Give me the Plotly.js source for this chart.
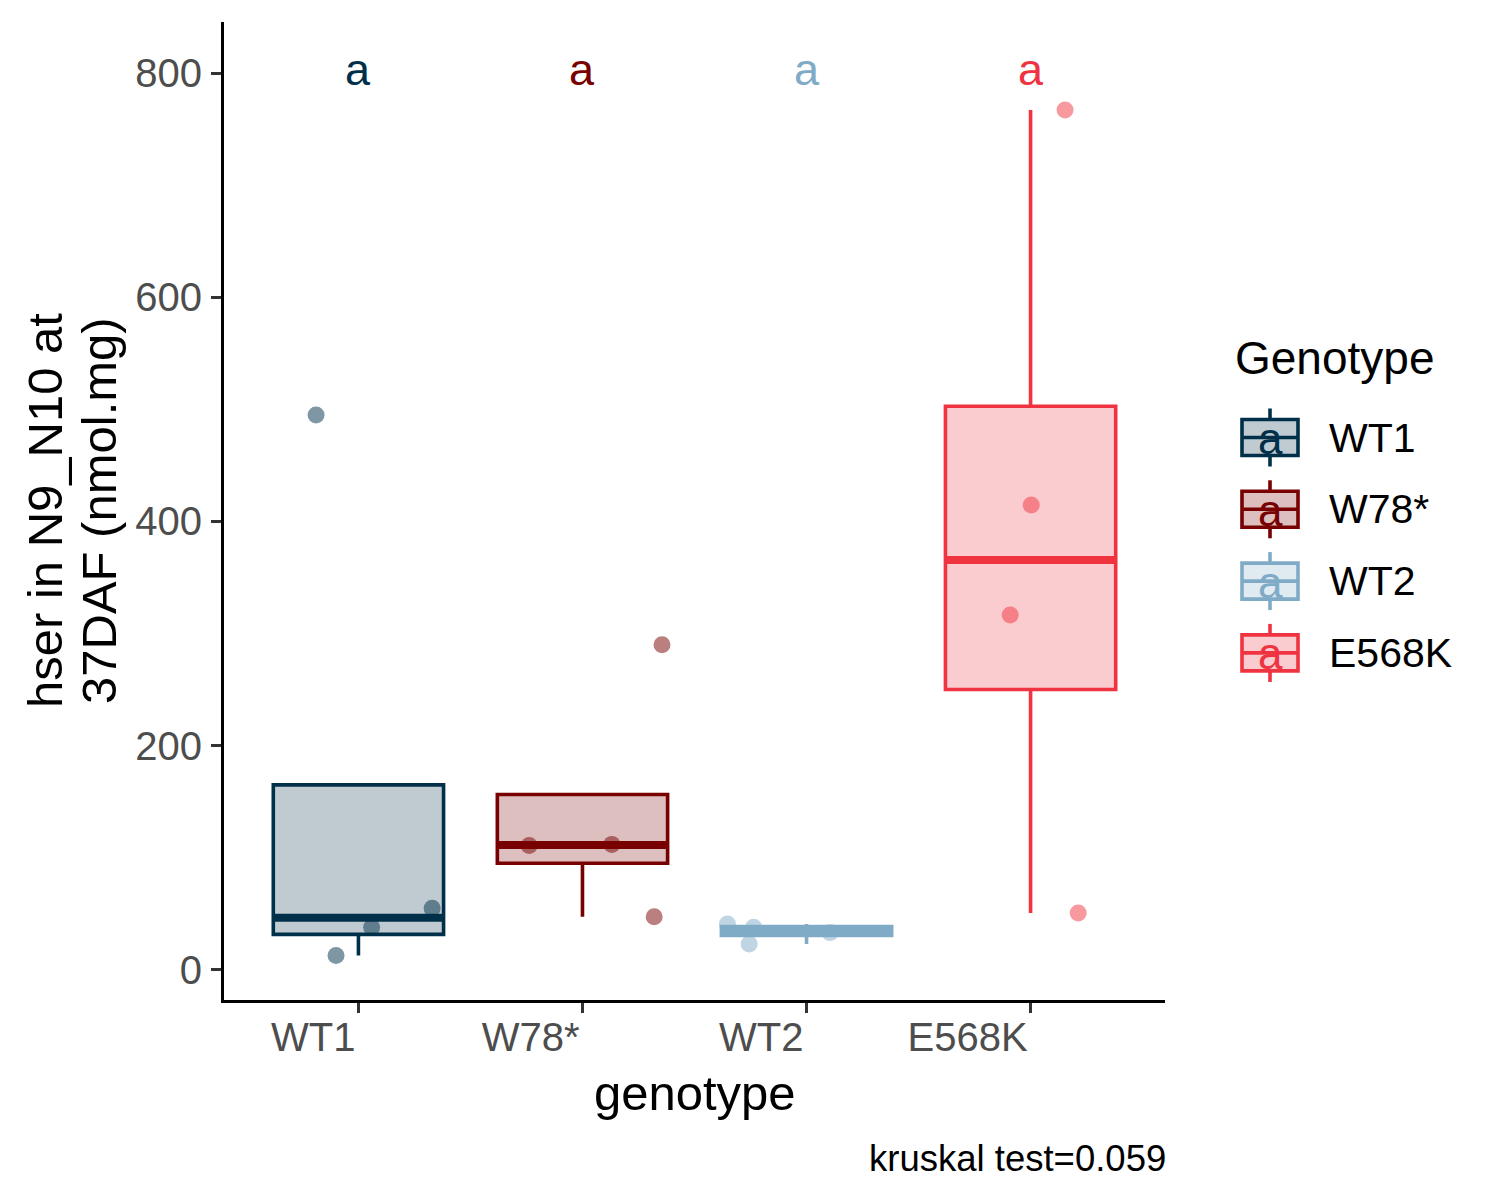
<!DOCTYPE html>
<html>
<head>
<meta charset="utf-8">
<script src="https://cdn.plot.ly/plotly-3.0.1.min.js"></script>
<style>html,body{margin:0;padding:0;background:#fff;}#chart{width:1500px;height:1200px;}</style>
</head>
<body>
<div id="chart"></div>
<script>
// ---------- data ----------
const genotypes = ["WT1", "W78*", "WT2", "E568K"];
const colors = ["#003049", "#780000", "#7FABC7", "#EF3340"];
const lettersCLD = ["a", "a", "a", "a"];
const letterY = 800;

const valuesWT1   = [12.8, 38.1, 55.1, 495];
const valuesW78   = [111, 112, 47.5, 290];
const valuesWT2   = [41, 38, 23.2, 33.3];
const valuesE568K = [767, 414.7, 316.6, 50.8];

// horizontal jitter offsets (category units)
const jitterWT1   = [-0.10, 0.059, 0.329, -0.189];
const jitterW78   = [-0.238, 0.131, 0.32, 0.355];
const jitterWT2   = [-0.353, -0.236, -0.256, 0.105];
const jitterE568K = [0.154, 0.003, -0.091, 0.2125];

const yTicks = [0, 200, 400, 600, 800];
const caption = "kruskal test=0.059";

const allValues = [valuesWT1, valuesW78, valuesWT2, valuesE568K];
const allJitter = [jitterWT1, jitterW78, jitterWT2, jitterE568K];

// ---------- helpers ----------
function hexToRgba(hex, a) {
  const n = parseInt(hex.slice(1), 16);
  return "rgba(" + ((n >> 16) & 255) + "," + ((n >> 8) & 255) + "," + (n & 255) + "," + a + ")";
}
function q7(s, p) {
  const n = s.length, h = (n - 1) * p, lo = Math.floor(h);
  const hi = Math.min(lo + 1, n - 1);
  return s[lo] + (h - lo) * (s[hi] - s[lo]);
}
function boxStats(v) {
  const s = v.slice().sort((a, b) => a - b);
  const q1 = q7(s, 0.25), med = q7(s, 0.5), q3 = q7(s, 0.75);
  const iqr = q3 - q1;
  const inl = s.filter(x => x >= q1 - 1.5 * iqr && x <= q3 + 1.5 * iqr);
  const lf = Math.min(q1, Math.min.apply(null, inl));
  const uf = Math.max(q3, Math.max.apply(null, inl));
  return {q1, med, q3, lf, uf};
}

// ---------- geometry of the page ----------
const W = 1500, H = 1200;
const M = {l: 224, r: 335, t: 22, b: 200};
const PW = W - M.l - M.r, PH = H - M.t - M.b;
const px = x => (x - M.l) / PW;
const py = y => (H - M.b - y) / PH;
const FONT = "Liberation Sans, Arial, sans-serif";
const BOXW = 0.76;
const LW = 3.6;

const traces = [];
const annotations = [];
const shapes = [];

genotypes.forEach((g, i) => {
  const xc = i + 1;
  const st = boxStats(allValues[i]);
  traces.push({
    type: "box", name: g, x: [xc],
    q1: [st.q1], median: [st.med], q3: [st.q3],
    lowerfence: [st.lf], upperfence: [st.uf],
    width: BOXW, whiskerwidth: 0, boxpoints: false,
    line: {color: colors[i], width: LW},
    fillcolor: hexToRgba(colors[i], 0.25),
    showlegend: false, hoverinfo: "skip"
  });
  traces.push({
    type: "scatter", mode: "lines",
    x: [xc - BOXW / 2, xc + BOXW / 2], y: [st.med, st.med],
    line: {color: colors[i], width: 8},
    showlegend: false, hoverinfo: "skip"
  });
  traces.push({
    type: "scatter", mode: "markers",
    x: allValues[i].map((v, k) => xc + allJitter[i][k]),
    y: allValues[i],
    marker: {color: colors[i], size: 17, opacity: 0.5, line: {width: 0}},
    showlegend: false, hoverinfo: "skip"
  });
  annotations.push({
    x: xc, y: letterY, xref: "x", yref: "y", text: lettersCLD[i],
    showarrow: false, xanchor: "center", yanchor: "middle", yshift: 4,
    font: {family: FONT, size: 45, color: colors[i]}
  });

  // custom legend entry
  const cy = 437.5 + 71.8 * i;
  const lx0 = 1242, lx1 = 1298, lxc = 1270;
  shapes.push({type: "line", xref: "paper", yref: "paper",
    x0: px(lxc), x1: px(lxc), y0: py(cy - 29), y1: py(cy - 18),
    line: {color: colors[i], width: LW}});
  shapes.push({type: "line", xref: "paper", yref: "paper",
    x0: px(lxc), x1: px(lxc), y0: py(cy + 18), y1: py(cy + 29),
    line: {color: colors[i], width: LW}});
  shapes.push({type: "rect", xref: "paper", yref: "paper",
    x0: px(lx0), x1: px(lx1), y0: py(cy + 18), y1: py(cy - 18),
    fillcolor: hexToRgba(colors[i], 0.25),
    line: {color: colors[i], width: LW}});
  shapes.push({type: "line", xref: "paper", yref: "paper",
    x0: px(lx0), x1: px(lx1), y0: py(cy), y1: py(cy),
    line: {color: colors[i], width: LW}});
  annotations.push({
    x: px(lxc), y: py(cy + 1), xref: "paper", yref: "paper", text: lettersCLD[i],
    showarrow: false, xanchor: "center", yanchor: "middle",
    font: {family: FONT, size: 44, color: colors[i]}
  });
  annotations.push({
    x: px(1327), y: py(cy), xref: "paper", yref: "paper", text: g,
    showarrow: false, xanchor: "left", yanchor: "middle",
    font: {family: FONT, size: 41, color: "#000"}
  });
});

// legend title
annotations.push({x: px(1233), y: py(358), xref: "paper", yref: "paper",
  text: "Genotype", showarrow: false, xanchor: "left", yanchor: "middle",
  font: {family: FONT, size: 46, color: "#000"}});
// y-axis title (two lines)
annotations.push({x: px(45), y: py(511), xref: "paper", yref: "paper",
  text: "hser in N9_N10 at", textangle: -90, showarrow: false,
  xanchor: "center", yanchor: "middle",
  font: {family: FONT, size: 49, color: "#000"}});
annotations.push({x: px(99), y: py(511), xref: "paper", yref: "paper",
  text: "37DAF (nmol.mg)", textangle: -90, showarrow: false,
  xanchor: "center", yanchor: "middle",
  font: {family: FONT, size: 49, color: "#000"}});
// x-axis title
annotations.push({x: 0.5, y: py(1093), xref: "paper", yref: "paper",
  text: "genotype", showarrow: false, xanchor: "center", yanchor: "middle",
  font: {family: FONT, size: 49, color: "#000"}});
// caption
annotations.push({x: 1, y: py(1158), xref: "paper", yref: "paper", xshift: 3,
  text: caption, showarrow: false, xanchor: "right", yanchor: "middle",
  font: {family: FONT, size: 36.5, color: "#000"}});

const layout = {
  width: W, height: H, autosize: false,
  margin: M,
  paper_bgcolor: "#fff", plot_bgcolor: "#fff",
  boxmode: "overlay",
  showlegend: false,
  font: {family: FONT},
  xaxis: {
    range: [0.4, 4.6], tickmode: "array",
    tickvals: genotypes.map((g, i) => i + 1), ticktext: genotypes,
    showgrid: false, zeroline: false,
    showline: true, linecolor: "#000", linewidth: 3,
    ticks: "outside", ticklen: 10, tickwidth: 3, tickcolor: "#333",
    ticklabelposition: "outside left", ticklabelstandoff: 0,
    tickfont: {family: FONT, size: 40, color: "#4d4d4d"}
  },
  yaxis: {
    range: [-26.8, 845.5], tickmode: "array", tickvals: yTicks,
    showgrid: false, zeroline: false,
    showline: true, linecolor: "#000", linewidth: 3,
    ticks: "outside", ticklen: 10, tickwidth: 3, tickcolor: "#333",
    ticklabelstandoff: 1,
    tickfont: {family: FONT, size: 40, color: "#4d4d4d"}
  },
  shapes: shapes,
  annotations: annotations
};

Plotly.newPlot("chart", traces, layout, {staticPlot: true, displayModeBar: false});
</script>
</body>
</html>
